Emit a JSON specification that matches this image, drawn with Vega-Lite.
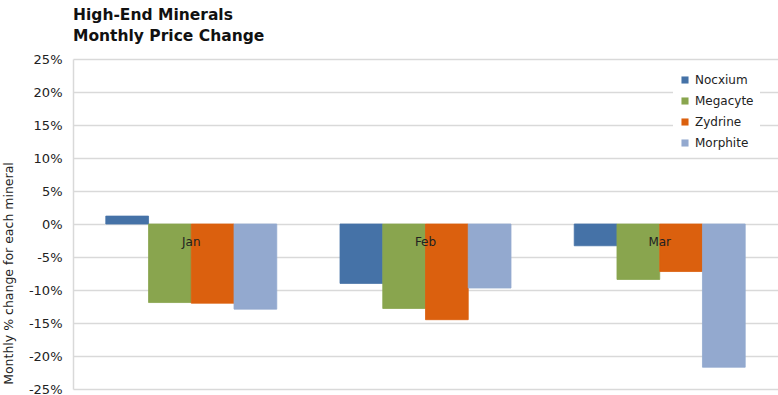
{
  "$schema": "https://vega.github.io/schema/vega-lite/v6.json",
  "width": 705,
  "height": 330,
  "autosize": {"type": "none"},
  "padding": {"left": 73, "top": 59, "right": 0, "bottom": 6},
  "background": "white",
  "title": {
    "text": ["High-End Minerals", "Monthly Price Change"],
    "anchor": "start",
    "frame": "group",
    "font": "DejaVu Sans",
    "fontSize": 15.5,
    "fontWeight": "bold",
    "color": "#111111",
    "lineHeight": 21,
    "offset": 9
  },
  "config": {
    "view": {"stroke": null},
    "font": "DejaVu Sans"
  },
  "data": {
    "values": [
      {"month": "Jan", "mineral": "Nocxium", "change": 1.2},
      {"month": "Jan", "mineral": "Megacyte", "change": -11.9},
      {"month": "Jan", "mineral": "Zydrine", "change": -12.0},
      {"month": "Jan", "mineral": "Morphite", "change": -12.9},
      {"month": "Feb", "mineral": "Nocxium", "change": -9.0},
      {"month": "Feb", "mineral": "Megacyte", "change": -12.8},
      {"month": "Feb", "mineral": "Zydrine", "change": -14.5},
      {"month": "Feb", "mineral": "Morphite", "change": -9.7},
      {"month": "Mar", "mineral": "Nocxium", "change": -3.3},
      {"month": "Mar", "mineral": "Megacyte", "change": -8.4},
      {"month": "Mar", "mineral": "Zydrine", "change": -7.2},
      {"month": "Mar", "mineral": "Morphite", "change": -21.7}
    ]
  },
  "mark": {"type": "bar", "strokeWidth": 0.8},
  "encoding": {
    "x": {
      "field": "month",
      "type": "nominal",
      "sort": ["Jan", "Feb", "Mar"],
      "scale": {"paddingInner": 0.27, "paddingOuter": 0.14},
      "axis": {
        "title": null,
        "offset": -165,
        "domain": false,
        "ticks": false,
        "labelAngle": 0,
        "labelPadding": 12,
        "labelFontSize": 12,
        "labelColor": "#222222",
        "grid": false,
        "zindex": 1
      }
    },
    "xOffset": {
      "field": "mineral",
      "type": "nominal",
      "sort": ["Nocxium", "Megacyte", "Zydrine", "Morphite"],
      "scale": {"paddingInner": 0, "paddingOuter": 0}
    },
    "y": {
      "field": "change",
      "type": "quantitative",
      "scale": {"domain": [-25, 25], "nice": false},
      "axis": {
        "title": "Monthly % change for each mineral",
        "titleFontSize": 12.5,
        "titleFontWeight": "normal",
        "titleColor": "#222222",
        "titleX": -58,
        "titleY": 214,
        "values": [-25, -20, -15, -10, -5, 0, 5, 10, 15, 20, 25],
        "labelExpr": "datum.value + '%'",
        "labelFontSize": 13,
        "labelColor": "#222222",
        "labelPadding": 11,
        "ticks": false,
        "domain": true,
        "domainColor": "#d9d9d9",
        "domainWidth": 1.5,
        "gridColor": "#d9d9d9",
        "gridWidth": 1.5
      }
    },
    "stroke": {
      "field": "mineral",
      "type": "nominal",
      "scale": {
        "domain": ["Nocxium", "Megacyte", "Zydrine", "Morphite"],
        "range": ["#4572A7", "#89A54E", "#DB600E", "#93A9CF"]
      },
      "legend": null
    },
    "color": {
      "field": "mineral",
      "type": "nominal",
      "sort": ["Nocxium", "Megacyte", "Zydrine", "Morphite"],
      "scale": {
        "domain": ["Nocxium", "Megacyte", "Zydrine", "Morphite"],
        "range": ["#4572A7", "#89A54E", "#DB600E", "#93A9CF"]
      },
      "legend": {
        "title": null,
        "orient": "none",
        "legendX": 600,
        "legendY": 9,
        "symbolType": "square",
        "symbolSize": 50,
        "symbolStrokeWidth": 0,
        "labelFontSize": 12,
        "labelColor": "#222222",
        "labelOffset": 4,
        "rowPadding": 9,
        "fillColor": "white",
        "padding": 6
      }
    }
  }
}
